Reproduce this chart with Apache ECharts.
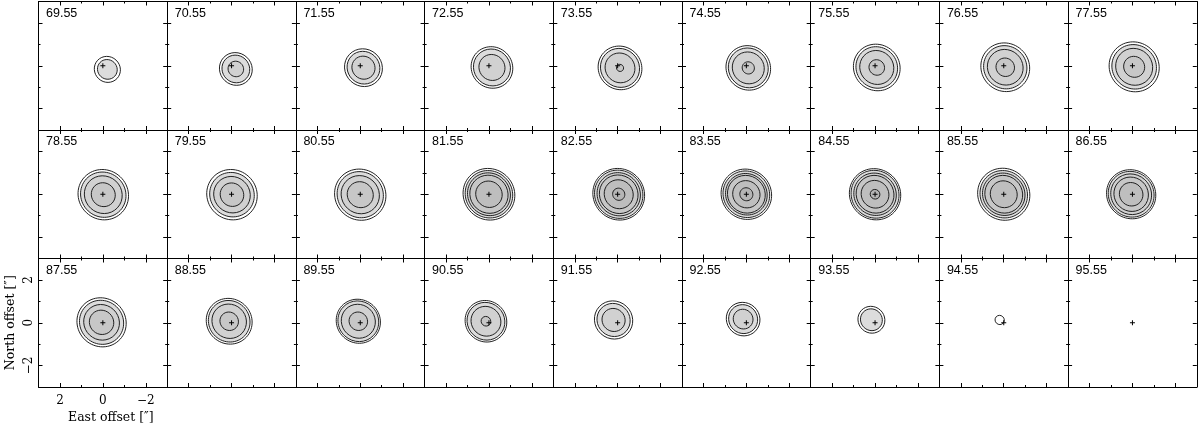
<!DOCTYPE html>
<html>
<head>
<meta charset="utf-8">
<script src="https://cdn.jsdelivr.net/npm/echarts@6/dist/echarts.min.js"></script>
<style>
html, body { margin: 0; padding: 0; background: #fff; }
#main { width: 1200px; height: 429px; }
</style>
</head>
<body>
<div id="main"></div>
<script>
// velocity of each channel map (km/s)
var channels = [
    '69.55','70.55','71.55','72.55','73.55','74.55','75.55','76.55','77.55',
    '78.55','79.55','80.55','81.55','82.55','83.55','84.55','85.55','86.55',
    '87.55','88.55','89.55','90.55','91.55','92.55','93.55','94.55','95.55'];

// contour radii per channel in arcsec, outermost level first
var contourRadii = [
    [0.62, 0.47],
    [0.78, 0.66, 0.37],
    [0.90, 0.78, 0.55],
    [0.99, 0.88, 0.62],
    [1.04, 0.93, 0.71, 0.17],
    [1.06, 0.95, 0.76, 0.29],
    [1.11, 0.99, 0.81, 0.37],
    [1.16, 1.03, 0.85, 0.44],
    [1.19, 1.06, 0.88, 0.50],
    [1.20, 1.08, 0.90, 0.57],
    [1.20, 1.06, 0.87, 0.56],
    [1.22, 1.10, 0.91, 0.62],
    [1.23, 1.13, 1.02, 0.91, 0.63],
    [1.23, 1.15, 1.03, 0.92, 0.69, 0.29],
    [1.20, 1.11, 0.99, 0.90, 0.65, 0.31],
    [1.22, 1.14, 1.01, 0.90, 0.66, 0.23],
    [1.24, 1.13, 1.01, 0.90, 0.64],
    [1.17, 1.09, 0.97, 0.82, 0.56],
    [1.17, 1.05, 0.85, 0.58],
    [1.09, 0.99, 0.82, 0.44],
    [1.05, 0.97, 0.81, 0.44],
    [0.99, 0.90, 0.71, 0.23],
    [0.91, 0.79, 0.55],
    [0.80, 0.69, 0.47],
    [0.64, 0.52],
    [0.22],
    []
];

// centre of the emission per channel (arcsec)
var centreEast = [
    -0.21, -0.20, -0.15, -0.14, -0.11, -0.09, -0.08, -0.07, -0.08,
    -0.02, -0.02, 0.00, 0.00, -0.05, 0.00, 0.00, 0.00, 0.06,
    0.06, 0.11, 0.09, 0.14, 0.19, 0.15, 0.17, 0.19, 0.00];
var centreNorth = [
    -0.17, -0.15, -0.09, -0.08, -0.10, -0.10, -0.08, -0.07, -0.05,
    -0.02, -0.02, -0.02, 0.00, 0.00, 0.00, 0.00, 0.00, 0.00,
    0.02, 0.07, 0.07, 0.07, 0.13, 0.17, 0.14, 0.13, 0.00];

// phase centre marker
var crossPos = [0, 0];

var majorTicks = [-2, 0, 2];
var minorTicks = [-1, 1];

var fillLevels = ['#ffffff', '#dcdcdc', '#d1d1d1', '#c7c7c7', '#bebebe', '#b5b5b5'];

var nCols = 9;
var panelW = 128.7, panelH = 128.5;
var originX = 38.5, originY = 1.5;
var labelPanel = 18;   // bottom-left panel carries the axis labels

function minusFmt(v) {
    if (v % 2 !== 0) return '';
    return v < 0 ? '\u2212' + (-v) : String(v);
}

function makeAxis(i, pos, major, withLabel) {
    var horiz = (pos === 'bottom' || pos === 'top');
    var ax = {
        type: 'value',
        gridIndex: i,
        position: pos,
        min: -3,
        max: 3,
        interval: 1,
        inverse: horiz,
        axisLine: {show: major, onZero: false, lineStyle: {color: '#000', width: 1}},
        axisTick: {
            show: true,
            inside: true,
            length: major ? 4 : 2,
            customValues: major ? majorTicks : minorTicks,
            lineStyle: {color: '#000', width: 1}
        },
        axisLabel: {show: false},
        splitLine: {show: false}
    };
    if (withLabel) {
        ax.axisLabel = {
            show: true,
            customValues: majorTicks,
            formatter: minusFmt,
            fontFamily: 'DejaVu Serif',
            fontSize: 12,
            color: '#000',
            margin: horiz ? 8 : 4,
            rotate: horiz ? 0 : 90
        };
        ax.nameLocation = 'middle';
        ax.nameTextStyle = {fontFamily: 'DejaVu Serif', fontSize: 12.5, color: '#000'};
        if (horiz) {
            ax.name = 'East offset [\u2033]';
            ax.nameGap = 24;
            ax.nameTextStyle.padding = [0, 0, 0, 16];
        } else {
            ax.name = 'North offset [\u2033]';
            ax.nameGap = 21;
        }
    }
    return ax;
}

function contourItem(params, api) {
    var c = api.coord([api.value(0), api.value(1)]);
    var r = api.value(2);
    var s = api.size([2 * r, 2 * r], [api.value(0), api.value(1)]);
    return {
        type: 'ellipse',
        x: c[0],
        y: c[1],
        rotation: -0.75,
        shape: {cx: 0, cy: 0, rx: s[0] / 2, ry: s[1] / 2 * 0.96},
        style: {fill: fillLevels[api.value(3)], stroke: '#1a1a1a', lineWidth: 0.9}
    };
}

function crossItem(params, api) {
    var c = api.coord([api.value(0), api.value(1)]);
    var h = 2.5;
    return {
        type: 'group',
        children: [
            {type: 'line', shape: {x1: c[0] - h, y1: c[1], x2: c[0] + h, y2: c[1]},
             style: {stroke: '#000', lineWidth: 1}},
            {type: 'line', shape: {x1: c[0], y1: c[1] - h, x2: c[0], y2: c[1] + h},
             style: {stroke: '#000', lineWidth: 1}}
        ]
    };
}

var grids = [], xAxes = [], yAxes = [], titles = [], series = [];

for (var i = 0; i < channels.length; i++) {
    var col = i % nCols, row = Math.floor(i / nCols);
    var gLeft = originX + col * panelW, gTop = originY + row * panelH;
    grids.push({left: gLeft, top: gTop, width: panelW, height: panelH});

    var lab = (i === labelPanel);
    var xBase = xAxes.length, yBase = yAxes.length;
    xAxes.push(makeAxis(i, 'bottom', true, lab));
    xAxes.push(makeAxis(i, 'bottom', false, false));
    xAxes.push(makeAxis(i, 'top', true, false));
    xAxes.push(makeAxis(i, 'top', false, false));
    yAxes.push(makeAxis(i, 'left', true, lab));
    yAxes.push(makeAxis(i, 'left', false, false));
    yAxes.push(makeAxis(i, 'right', true, false));
    yAxes.push(makeAxis(i, 'right', false, false));

    titles.push({
        text: channels[i],
        left: gLeft + 7.5,
        top: gTop + 5.5,
        padding: 0,
        textStyle: {fontFamily: 'Liberation Sans', fontSize: 12.5, fontWeight: 'normal', color: '#000'}
    });

    var cdata = [];
    for (var k = 0; k < contourRadii[i].length; k++) {
        cdata.push([centreEast[i], centreNorth[i], contourRadii[i][k], k]);
    }

    series.push({
        type: 'custom', xAxisIndex: xBase, yAxisIndex: yBase,
        silent: true, animation: false, encode: {x: 0, y: 1},
        data: cdata, renderItem: contourItem
    });
    series.push({
        type: 'custom', xAxisIndex: xBase, yAxisIndex: yBase,
        silent: true, animation: false, encode: {x: 0, y: 1},
        data: [crossPos], z: 5, renderItem: crossItem
    });
}

var myChart = echarts.init(document.getElementById('main'));

var option = {
    animation: false,
    backgroundColor: '#fff',
    title: titles,
    grid: grids,
    xAxis: xAxes,
    yAxis: yAxes,
    series: series
};

myChart.setOption(option);
</script>
</body>
</html>
